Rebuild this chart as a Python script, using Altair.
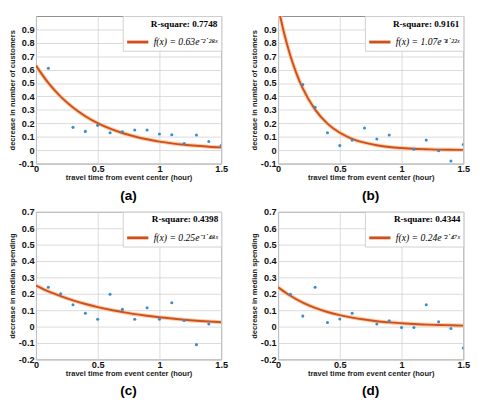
import altair as alt
import pandas as pd

# ---- scatter data ----
xa = [0.1, 0.3, 0.4, 0.5, 0.6, 0.7, 0.8, 0.9, 1.0, 1.1, 1.2, 1.3, 1.4, 1.5]
ya = [0.61, 0.17, 0.14, 0.185, 0.13, 0.137, 0.15, 0.15, 0.12, 0.115, 0.05, 0.113, 0.065, 0.035]

xb = [0.2, 0.3, 0.4, 0.5, 0.6, 0.7, 0.8, 0.9, 1.1, 1.2, 1.3, 1.4, 1.5]
yb = [0.49, 0.32, 0.13, 0.034, 0.075, 0.165, 0.084, 0.113, 0.007, 0.075, -0.005, -0.08, 0.043]

xc = [0.1, 0.2, 0.3, 0.4, 0.5, 0.6, 0.7, 0.8, 0.9, 1.0, 1.1, 1.2, 1.3, 1.4]
yc = [0.24, 0.2, 0.133, 0.082, 0.045, 0.197, 0.105, 0.045, 0.115, 0.045, 0.146, 0.037, -0.11, 0.016]

xd = [0.1, 0.2, 0.3, 0.4, 0.5, 0.6, 0.8, 0.9, 1.0, 1.1, 1.2, 1.3, 1.4, 1.5]
yd = [0.197, 0.064, 0.24, 0.025, 0.047, 0.082, 0.016, 0.035, -0.006, -0.006, 0.133, 0.03, -0.012, -0.13]

# ---- fitted curves ----
fx = [0.0, 0.1, 0.2, 0.3, 0.4, 0.5, 0.6, 0.7, 0.8, 0.9, 1.0, 1.1, 1.2, 1.3, 1.4, 1.5]
fa = [0.63, 0.501, 0.399, 0.318, 0.253, 0.201, 0.160, 0.128, 0.102, 0.081, 0.064, 0.051, 0.041, 0.033, 0.026, 0.021]
fbx = [0.0, 0.05, 0.1, 0.15, 0.2, 0.3, 0.4, 0.5, 0.6, 0.7, 0.8, 0.9, 1.0, 1.1, 1.2, 1.3, 1.4, 1.5]
fb = [1.07, 0.867, 0.702, 0.569, 0.460, 0.302, 0.198, 0.130, 0.085, 0.056, 0.037, 0.024, 0.016, 0.010, 0.007, 0.004, 0.003, 0.002]
fc = [0.25, 0.215, 0.186, 0.160, 0.138, 0.119, 0.103, 0.089, 0.076, 0.066, 0.057, 0.049, 0.042, 0.036, 0.031, 0.027]
fd = [0.24, 0.188, 0.146, 0.114, 0.089, 0.070, 0.055, 0.043, 0.033, 0.026, 0.020, 0.016, 0.012, 0.010, 0.008, 0.006]

yticks_ab = [-0.1, 0, 0.1, 0.2, 0.3, 0.4, 0.5, 0.6, 0.7, 0.8, 0.9]
yticks_cd = [-0.2, -0.1, 0, 0.1, 0.2, 0.3, 0.4, 0.5, 0.6, 0.7]
xticks = [0, 0.5, 1, 1.5]

panels = [
    ("(a)", xa, ya, fx, fa, "R-square: 0.7748", "f(x) = 0.63e⁻²˙²⁸ˣ", "decrease in number of customers", [-0.1, 1.0], yticks_ab),
    ("(b)", xb, yb, fbx, fb, "R-square: 0.9161", "f(x) = 1.07e⁻⁴˙²²ˣ", "decrease in number of customers", [-0.1, 1.0], yticks_ab),
    ("(c)", xc, yc, fx, fc, "R-square: 0.4398", "f(x) = 0.25e⁻¹˙⁴⁸ˣ", "decrease in median spending", [-0.2, 0.7], yticks_cd),
    ("(d)", xd, yd, fx, fd, "R-square: 0.4344", "f(x) = 0.24e⁻²˙⁴⁷ˣ", "decrease in median spending", [-0.2, 0.7], yticks_cd),
]

W, H = 192, 153
LABEL_EXPR = "replace(format(datum.value, '.1~f'), '\u2212', '-')"
SANS = "Liberation Sans"
SERIF = "Liberation Serif"


def make_panel(tag, px, py, cx, cy, rsq, flabel, ytitle, ydom, yvals):
    pts = pd.DataFrame({"x": px, "y": py})
    fit = pd.DataFrame({"x": cx, "y": cy, "label": [flabel] * len(cx)})
    xs = alt.Scale(domain=[0, 1.5], nice=False, zero=False)
    ys = alt.Scale(domain=ydom, nice=False, zero=False)
    xaxis = alt.Axis(values=xticks, tickCount=20, title="travel time from event center (hour)",
                     labelExpr=LABEL_EXPR, grid=True, gridColor="#d0d0d0", gridWidth=0.8,
                     domain=False, ticks=False, labelOverlap=False, labelFlush=False,
                     labelFont=SANS, labelFontWeight="bold",
                     labelFontSize=9.5, labelColor="#111", labelPadding=0,
                     titleFont=SANS, titleFontSize=7.8, titleFontWeight="bold",
                     titleColor="#222", titlePadding=1)
    yaxis = alt.Axis(values=yvals, tickCount=30, title=ytitle, labelExpr=LABEL_EXPR, grid=True,
                     gridColor="#d0d0d0", gridWidth=0.8, domain=False, ticks=False,
                     labelOverlap=False, labelFlush=False,
                     labelFont=SANS, labelFontWeight="bold", labelFontSize=9.5,
                     labelColor="#111", labelPadding=2, titleFont=SANS, titleFontSize=7.8,
                     titleFontWeight="bold", titleColor="#222", titlePadding=2)
    X = alt.X("x:Q", scale=xs, axis=xaxis)
    Y = alt.Y("y:Q", scale=ys, axis=yaxis)
    glow = alt.Chart(fit).mark_line(color="#f8c9a2", strokeWidth=4.2, interpolate="monotone",
                                    clip=True, opacity=0.9).encode(x=X, y=Y)
    line = alt.Chart(fit).mark_line(strokeWidth=2, interpolate="monotone", clip=True).encode(
        x=X, y=Y,
        color=alt.Color("label:N", scale=alt.Scale(range=["#d0501c"]),
                        legend=alt.Legend(title=rsq, orient="top-right", offset=0,
                                          fillColor="white", strokeColor="#cfcfcf",
                                          padding=3, symbolType="stroke", symbolSize=484,
                                          symbolStrokeWidth=3, labelFont=SERIF,
                                          labelFontSize=10, labelFontStyle="italic",
                                          labelColor="black", titleFont=SERIF,
                                          titleFontSize=9.5, titleFontWeight="bold",
                                          titleColor="black", titleAnchor="end",
                                          titlePadding=2)))
    dots = alt.Chart(pts).mark_point(filled=True, size=10, color="#3a8dd0", opacity=1,
                                     clip=True).encode(x=X, y=Y)
    return alt.layer(glow, line, dots).properties(
        width=W, height=H,
        title=alt.TitleParams(tag, orient="bottom", fontSize=14, font=SANS,
                              fontWeight="bold", offset=8, anchor="middle", color="black"))


charts = [make_panel(*p) for p in panels]

chart = alt.concat(*charts, columns=2, spacing={"row": 50, "column": 59}, bounds="flush").resolve_scale(
    color="independent").resolve_legend(color="independent").configure_view(
    stroke="#8c8c8c", strokeWidth=1).properties(padding={"left": 0, "top": 0, "right": 0, "bottom": 0},
                                                 background="white")

chart.save("out.html", embed_options={"renderer": "svg", "actions": False})
